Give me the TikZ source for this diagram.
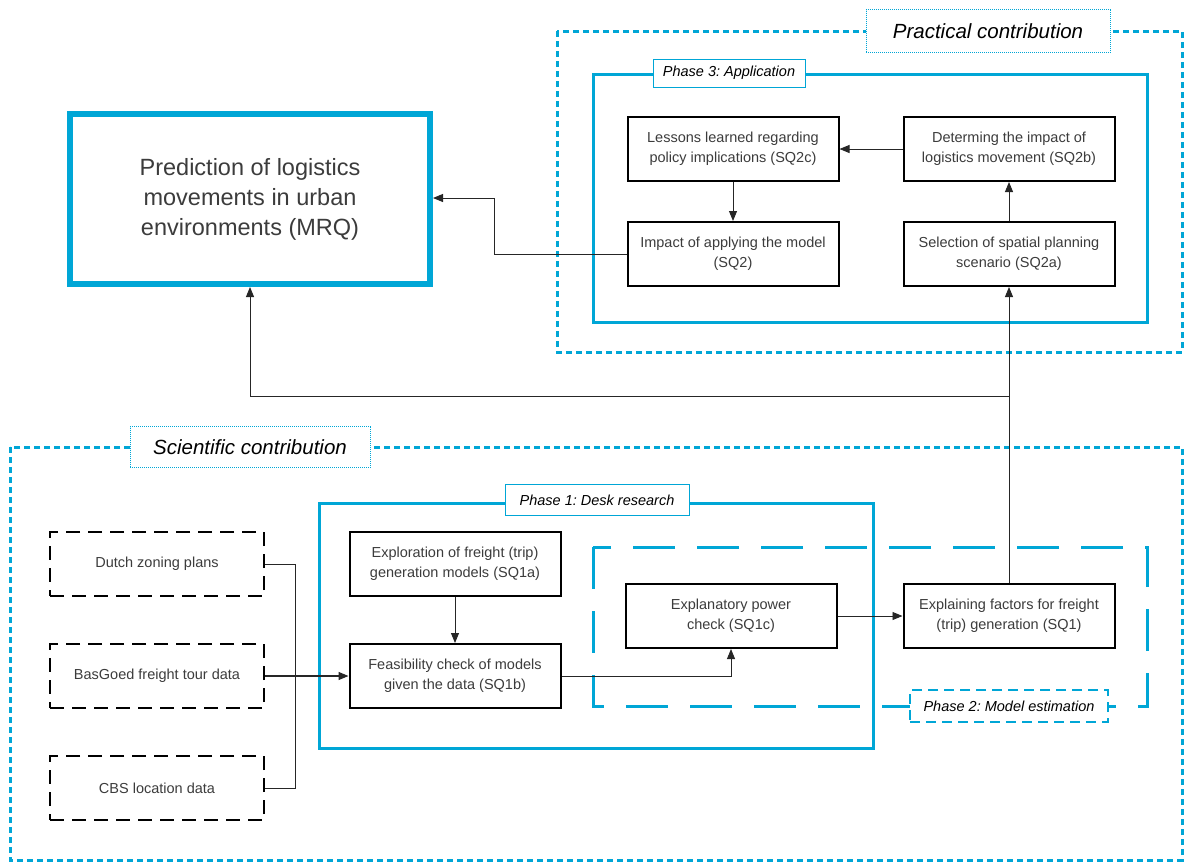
\documentclass[tikz,border=0pt]{standalone}
\usepackage{fontspec}
\setmainfont{Liberation Sans}
\usetikzlibrary{arrows.meta}
\definecolor{tucyan}{RGB}{0,166,214}
\definecolor{txt}{RGB}{60,60,60}
\frenchspacing
\begin{document}
\begin{tikzpicture}[x=1pt,y=-1pt,
  box/.style={draw=black,line width=2pt,fill=white,minimum width=211pt,minimum height=64pt,align=center,font=\fontsize{14.5}{20}\selectfont,text=txt,inner sep=0pt},
  dbox/.style={box,dash pattern=on 14pt off 8pt},
  conn/.style={draw=black!85,line width=0.9pt},
  arr/.style={conn,-{Triangle[length=10pt,width=8pt]}},
  outerbox/.style={draw=tucyan,line width=3pt,dash pattern=on 6pt off 4pt},
  phasebox/.style={draw=tucyan,line width=3pt},
  ldbox/.style={draw=tucyan,line width=3pt,dash pattern=on 42pt off 22pt},
  biglab/.style={draw=tucyan,line width=1pt,densely dotted,fill=white,font=\fontsize{20.5}{24}\selectfont\itshape,inner sep=0pt},
  phlab/.style={draw=tucyan,line width=1pt,fill=white,font=\fontsize{14.5}{17}\selectfont\itshape,inner sep=0pt}
]
\useasboundingbox (0,0) rectangle (1184,863);
% outer contributions
\draw[outerbox] (557,31) rectangle (1182,352);
\draw[outerbox] (10,447) rectangle (1182,860);
% phases
\draw[phasebox] (593,74) rectangle (1147,322);
\draw[phasebox] (319,503) rectangle (873,748);
\draw[ldbox] (593,547) rectangle (1147,706);
% labels
\node[biglab,minimum width=244pt,minimum height=43pt] (pclab) at (988,31) {Practical contribution};
\node[biglab,minimum width=240pt,minimum height=41pt] (sclab) at (250,447) {Scientific contribution};
\node[phlab,minimum width=152pt,minimum height=28pt] (p3lab) at (729,73) {Phase 3: Application};
\node[phlab,minimum width=184pt,minimum height=31pt] (p1lab) at (597,500) {Phase 1: Desk research};
\node[phlab,line width=1.5pt,dash pattern=on 10pt off 6pt,minimum width=198pt,minimum height=32pt] (p2lab) at (1009,706) {Phase 2: Model estimation};
% MRQ
\node[draw=tucyan,line width=6pt,fill=white,minimum width=360pt,minimum height=170pt,align=center,font=\fontsize{23.5}{30}\selectfont,text=txt,inner sep=0pt] (mrq) at (250,199) {Prediction of logistics\\movements in urban\\environments (MRQ)};
% phase 3 nodes
\node[box] (les) at (733,149) {Lessons learned regarding\\policy implications (SQ2c)};
\node[box] (det) at (1009,149) {Determing the impact of\\logistics movement (SQ2b)};
\node[box] (imp) at (733,254) {Impact of applying the model\\(SQ2)};
\node[box] (sel) at (1009,254) {Selection of spatial planning\\scenario (SQ2a)};
% phase 1/2 nodes
\node[box] (exp) at (455,564) {Exploration of freight (trip)\\generation models (SQ1a)};
\node[box] (fea) at (455,676) {Feasibility check of models\\given the data (SQ1b)};
\node[box] (epc) at (731,616) {Explanatory power\\check (SQ1c)};
\node[box] (exf) at (1009,616) {Explaining factors for freight\\(trip) generation (SQ1)};
% data
\node[dbox,minimum width=214pt] (dut) at (157,564) {Dutch zoning plans};
\node[dbox,minimum width=214pt] (bas) at (157,676) {BasGoed freight tour data};
\node[dbox,minimum width=214pt] (cbs) at (157,788) {CBS location data};
% connectors
\draw[arr] (det.west) -- (les.east);
\draw[arr] (les.south) -- (imp.north);
\draw[arr] (sel.north) -- (det.south);
\coordinate (j1) at (494,198);
\draw[arr] (imp.west) -| (j1) -- (j1 -| mrq.east);
\draw[arr] (exf.north) -- (sel.south);
\coordinate (j2) at (1009,396);
\draw[arr] (j2) -| (mrq.south);
\draw[conn] (dut.east) -- ++(30,0) |- (cbs.east);
\draw[arr,line width=1.3pt] (bas.east) -- (fea.west);
\draw[arr] (exp.south) -- (fea.north);
\draw[arr] (fea.east) -| (epc.south);
\draw[arr] (epc.east) -- (exf.west);
\end{tikzpicture}
\end{document}
